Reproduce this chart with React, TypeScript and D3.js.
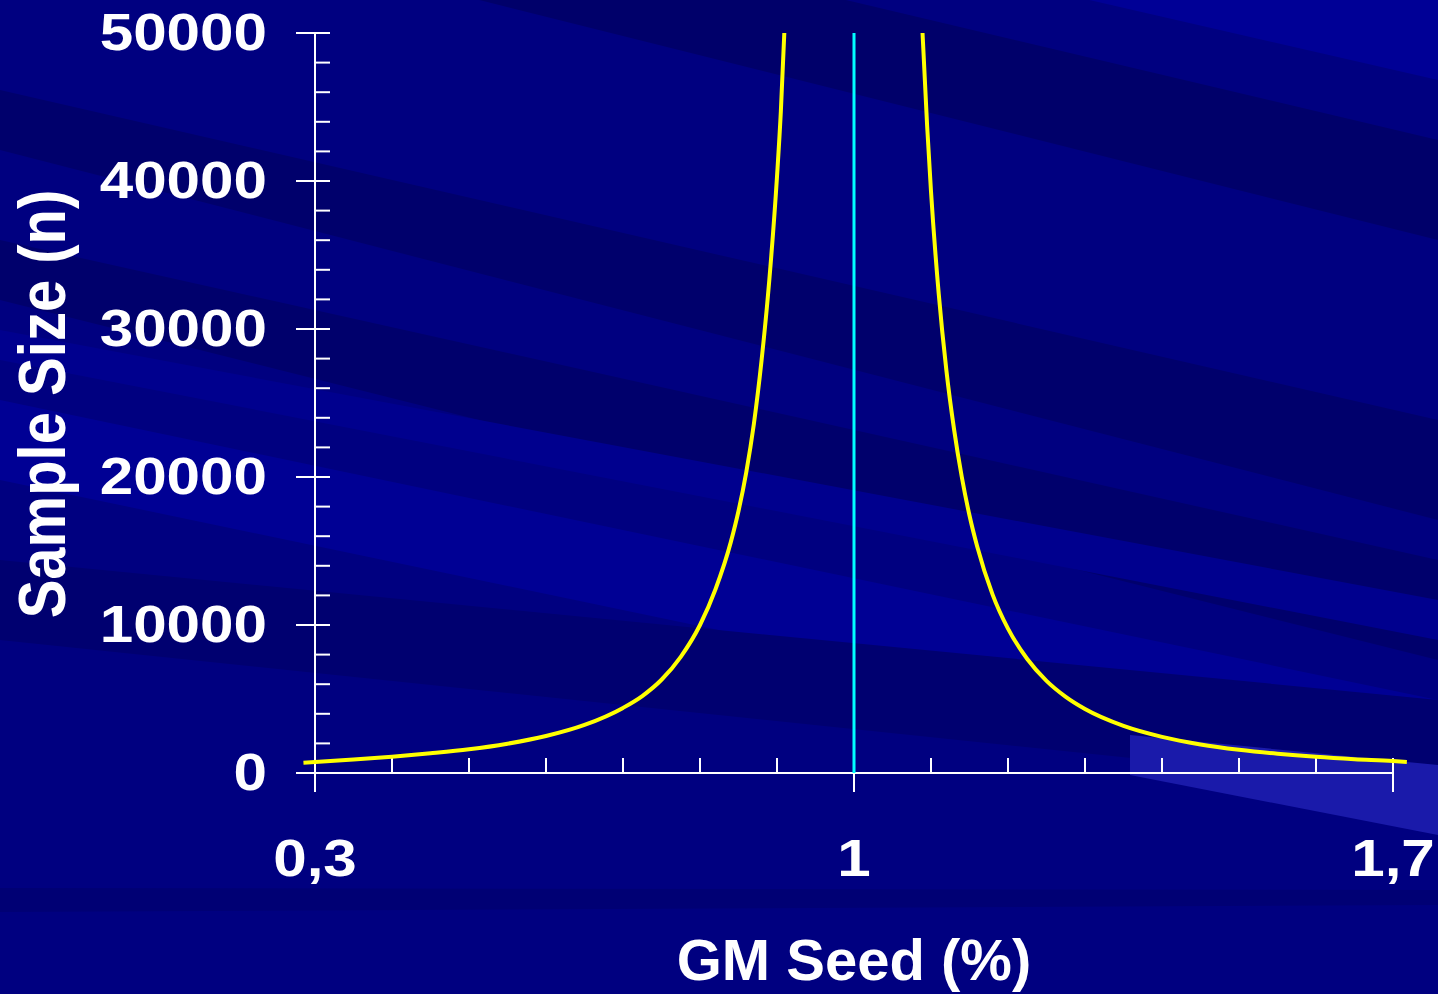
import * as d3 from 'd3';

// GM seed content (%) vs. required sample size, left branch (below threshold)
const leftGM = [0.285, 0.3, 0.35, 0.4, 0.45, 0.5, 0.55, 0.6, 0.65, 0.7, 0.725, 0.75, 0.775, 0.8, 0.82, 0.84, 0.85, 0.86, 0.87, 0.88, 0.89, 0.9, 0.905, 0.9095];
const leftN = [700, 745, 910, 1100, 1330, 1600, 1980, 2500, 3250, 4400, 5200, 6300, 7850, 10000, 12400, 15600, 17700, 20300, 23600, 27900, 33300, 40300, 44700, 50000];

// right branch (above threshold)
const rightGM = [1.089, 1.095, 1.1, 1.11, 1.12, 1.13, 1.14, 1.15, 1.16, 1.18, 1.2, 1.225, 1.25, 1.275, 1.3, 1.35, 1.4, 1.45, 1.5, 1.55, 1.6, 1.65, 1.7, 1.718];
const rightN = [50000, 43700, 39300, 32400, 27200, 23200, 20000, 17400, 15300, 12050, 9750, 7700, 6220, 5140, 4320, 3180, 2440, 1930, 1570, 1300, 1090, 930, 805, 740];

const threshold = 1;

const xMajor = [0.3, 1, 1.7];
const xTickLabels = ['0,3', '1', '1,7'];
const yMajor = [0, 10000, 20000, 30000, 40000, 50000];
const yTickLabels = ['0', '10000', '20000', '30000', '40000', '50000'];

const W = 1438;
const H = 994;
const FONT = '"Liberation Sans", Arial, sans-serif';

// background streaks: [yLeftTop, yRightTop, yLeftBottom, yRightBottom, color]
const streaks: [number, number, number, number, string][] = [
    [-400, -60, -250, 80, '#000096'],
    [-200, 140, -120, 240, '#00006a'],
    [90, 420, 150, 520, '#00006c'],
    [240, 560, 300, 660, '#00006c'],
    [330, 600, 360, 640, '#00008e'],
    [400, 700, 480, 780, '#000094'],
    [560, 700, 640, 790, '#000070'],
    [888, 890, 912, 905, '#000074'],
];

export default function App() {
    const x = d3.scaleLinear().domain([0.3, 1.7]).range([315, 1393]);
    const y = d3.scaleLinear().domain([0, 50000]).range([773, 33]);

    const line = d3.line<number>()
        .curve(d3.curveMonotoneX);

    const leftPath = line.x(d => x(leftGM[d])).y(d => y(leftN[d]))(d3.range(leftGM.length));
    const rightPath = line.x(d => x(rightGM[d])).y(d => y(rightN[d]))(d3.range(rightGM.length));

    const xMinor = x.ticks(14);
    const yMinor = y.ticks(25);
    const y0 = y(0);

    return (
        <svg width={W} height={H} style={{ position: 'absolute', left: 0, top: 0, display: 'block' }}>
            <rect width={W} height={H} fill="#000080" />
            {streaks.map((s, i) => (
                <polygon key={i}
                    points={`0,${s[0]} ${W},${s[1]} ${W},${s[3]} 0,${s[2]}`}
                    fill={s[4]} />
            ))}
            <polygon points={`1130,735 ${W},765 ${W},835 1130,775`} fill="#1a1aaa" />

            {/* y axis */}
            <g stroke="#fff" strokeWidth={2}>
                <line x1={x(0.3)} x2={x(0.3)} y1={y(50000)} y2={y0 + 19} />
                {yMinor.map(t => (
                    <line key={t} x1={x(0.3)} x2={x(0.3) + 15} y1={y(t)} y2={y(t)} />
                ))}
                {yMajor.map(t => (
                    <line key={'M' + t} x1={x(0.3) - 19} x2={x(0.3) + 15} y1={y(t)} y2={y(t)} />
                ))}
                {/* x axis */}
                <line x1={x(0.3) - 19} x2={x(1.7)} y1={y0} y2={y0} />
                {xMinor.map(t => (
                    <line key={'x' + t} x1={x(t)} x2={x(t)} y1={y0 - 15} y2={y0} />
                ))}
                {xMajor.map(t => (
                    <line key={'X' + t} x1={x(t)} x2={x(t)} y1={y0 - 15} y2={y0 + 19} />
                ))}
            </g>

            <line x1={x(threshold)} x2={x(threshold)} y1={y(50000)} y2={y0} stroke="#00ffff" strokeWidth={3} />
            <path d={leftPath ?? ''} fill="none" stroke="#ffff00" strokeWidth={4} />
            <path d={rightPath ?? ''} fill="none" stroke="#ffff00" strokeWidth={4} />

            <g fill="#fff" fontFamily={FONT} fontWeight="bold" fontSize={51}>
                {yMajor.map((t, i) => (
                    <text key={t} transform={`translate(267,${y(t)}) scale(1.18,1)`}
                        textAnchor="end" dominantBaseline="central">{yTickLabels[i]}</text>
                ))}
                {xMajor.map((t, i) => (
                    <text key={t} transform={`translate(${x(t)},876) scale(1.18,1)`}
                        textAnchor="middle">{xTickLabels[i]}</text>
                ))}
            </g>

            <text x={x(threshold)} y={980} fill="#fff" fontFamily={FONT} fontWeight="bold"
                fontSize={58} textAnchor="middle">GM Seed (%)</text>
            <text transform={`translate(65,404) scale(1.15,1) rotate(-90)`} fill="#fff" fontFamily={FONT}
                fontWeight="bold" fontSize={58} textAnchor="middle">Sample Size (n)</text>
        </svg>
    );
}
